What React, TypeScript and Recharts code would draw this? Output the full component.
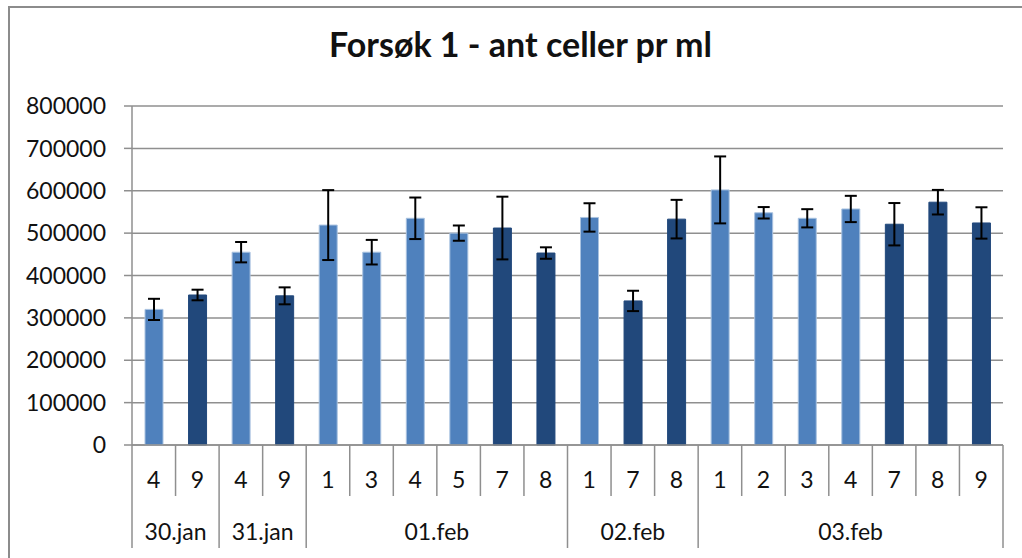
import { Bar, BarChart, CartesianGrid, Cell, ErrorBar, XAxis, YAxis } from 'recharts';

const samples = ['4', '9', '4', '9', '1', '3', '4', '5', '7', '8', '1', '7', '8', '1', '2', '3', '4', '7', '8', '9'];
const days = [
  '30.jan', '30.jan',
  '31.jan', '31.jan',
  '01.feb', '01.feb', '01.feb', '01.feb', '01.feb', '01.feb',
  '02.feb', '02.feb', '02.feb',
  '03.feb', '03.feb', '03.feb', '03.feb', '03.feb', '03.feb', '03.feb',
];
const cellsPerMl = [
  320000, 354000, 455000, 352000, 519000, 455000, 535000, 500000, 512000, 453000,
  537000, 340000, 533000, 602000, 548000, 535000, 557000, 521000, 573000, 524000,
];
const errors = [
  25000, 12500, 24000, 20000, 82500, 29000, 49000, 18000, 74000, 13500,
  33500, 24000, 45500, 79000, 13500, 21500, 31000, 50000, 29000, 37000,
];
const yTicks = [0, 100000, 200000, 300000, 400000, 500000, 600000, 700000, 800000];

const data = samples.map((s, i) => ({ id: i, sample: s, day: days[i], value: cellsPerMl[i], err: errors[i] }));

const W = 1022;
const H = 558;
const PLOT_LEFT = 132;
const PLOT_RIGHT = 1003;
const BAND = (PLOT_RIGHT - PLOT_LEFT) / data.length;
const FONT = 'Lato, "Open Sans", sans-serif';
const GRID = '#8f8f8f';

function CategoryTick(props: any) {
  const { x, y, payload } = props;
  const i = payload.index;
  const left = x - BAND / 2;
  const groupStart = i === 0 || days[i] !== days[i - 1];
  const last = i === data.length - 1;
  let groupLen = 0;
  if (groupStart) {
    while (i + groupLen < days.length && days[i + groupLen] === days[i]) groupLen++;
  }
  return (
    <g>
      <line x1={left} x2={left} y1={y} y2={y + (groupStart ? 103 : 51)} stroke={GRID} strokeWidth={1.5} />
      {last && <line x1={x + BAND / 2} x2={x + BAND / 2} y1={y} y2={y + 103} stroke={GRID} strokeWidth={1.5} />}
      <text x={x} y={y + 35} dy="0.36em" textAnchor="middle" fontSize={23} fontFamily={FONT} fill="#111">
        {samples[i]}
      </text>
      {groupStart && (
        <text x={left + (groupLen * BAND) / 2} y={y + 87} dy="0.36em" textAnchor="middle" fontSize={23} fontFamily={FONT} fill="#111">
          {days[i]}
        </text>
      )}
    </g>
  );
}

export default function App() {
  return (
    <div style={{ position: 'absolute', left: 0, top: 0, width: W, height: H, overflow: 'hidden', background: '#fff' }}>
      <div style={{ position: 'absolute', left: 8, top: 6, width: 1040, height: 640, border: '2px solid #8c8c8c' }} />
      <div
        style={{
          position: 'absolute', left: 0, top: 27, width: 1041, textAlign: 'center',
          fontFamily: FONT, fontWeight: 700, fontSize: 34, lineHeight: '34px', color: '#111',
        }}
      >
        Forsøk 1 - ant celler pr ml
      </div>
      <div style={{ position: 'absolute', left: 0, top: 0 }}>
        <BarChart width={W} height={H} data={data} margin={{ top: 106, right: W - PLOT_RIGHT, bottom: 8, left: 0 }} barCategoryGap={0}>
          <CartesianGrid vertical={false} stroke={GRID} strokeWidth={1.5} />
          <XAxis
            dataKey="id"
            type="category"
            height={105}
            interval={0}
            tickLine={false}
            tickSize={0}
            tickMargin={0}
            axisLine={{ stroke: GRID, strokeWidth: 1.5 }}
            tick={<CategoryTick />}
          />
          <YAxis
            width={PLOT_LEFT}
            domain={[0, 800000]}
            ticks={yTicks}
            interval={0}
            tickSize={8}
            tickMargin={18}
            tickLine={{ stroke: GRID, strokeWidth: 1.5 }}
            axisLine={{ stroke: GRID, strokeWidth: 1.5 }}
            tick={{ fontSize: 23, fontFamily: FONT, fill: '#111' }}
          />
          <Bar dataKey="value" barSize={18} isAnimationActive={false}>
            {data.map((d) => {
              const dark = Number(d.sample) >= 7;
              return (
                <Cell
                  key={d.id}
                  fill={dark ? '#21487b' : '#4f81bd'}
                  stroke={dark ? '#21487b' : '#a9c2e0'}
                  strokeWidth={1}
                />
              );
            })}
            <ErrorBar dataKey="err" width={6} strokeWidth={2} stroke="#000" direction="y" isAnimationActive={false} />
          </Bar>
        </BarChart>
      </div>
    </div>
  );
}
